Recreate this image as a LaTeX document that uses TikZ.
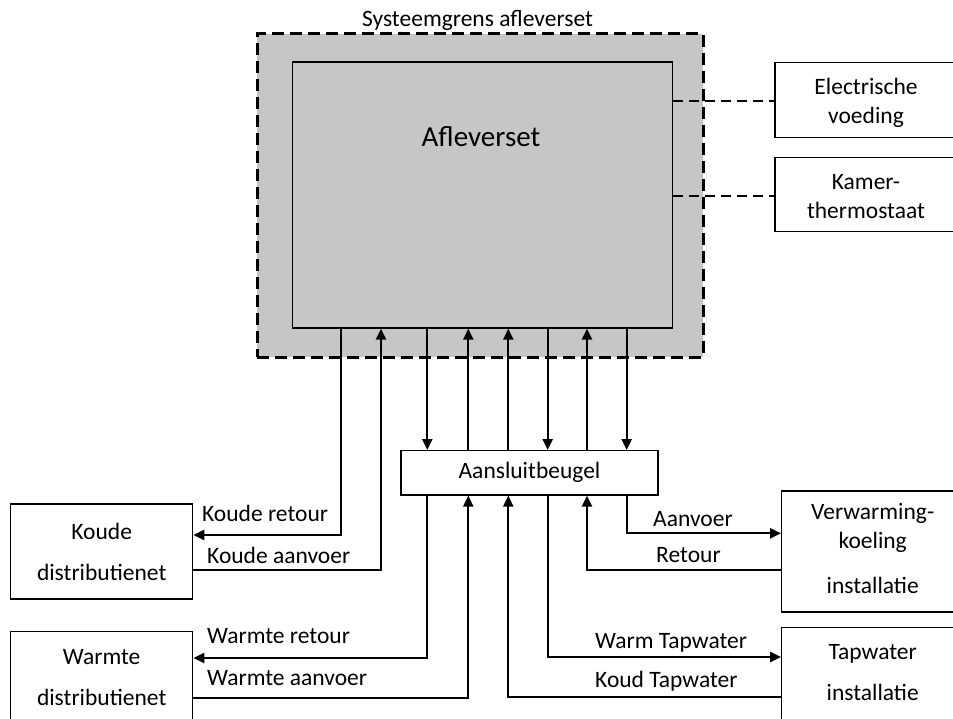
\documentclass[tikz,border=0pt]{standalone}
\usepackage{fontspec}
\setmainfont{Carlito}
\usetikzlibrary{arrows.meta}
\definecolor{setgrijs}{RGB}{198,198,198}

\begin{document}
\begin{tikzpicture}[x=1pt, y=-1pt,
    every node/.style={font=\fontsize{23.5}{29}\selectfont},
    blok/.style={draw, line width=1.3pt, inner sep=0pt, minimum width=182pt, align=center},
    tekst/.style={inner sep=0pt, anchor=base west},
    pijl/.style={line width=2.3pt, -{Triangle[length=11pt, width=10pt]}},
    stippel/.style={line width=2.5pt, dash pattern=on 10pt off 6pt}]
    \useasboundingbox (0,0) rectangle (953,719);

    % systeemgrens en afleverset
    \node[draw, fill=setgrijs, line width=3pt, dash pattern=on 12pt off 6pt, inner sep=0pt,
          minimum width=446pt, minimum height=323pt] (grens) at (480,195.5) {};
    \node[anchor=base] (grenstekst) at (477.5,27) {Systeemgrens afleverset};
    \node[draw, line width=1.3pt, inner sep=0pt, minimum width=380pt, minimum height=266pt] (afl) at (482.7,195) {};
    \node[anchor=base, font=\fontsize{29}{35}\selectfont] (afltekst) at (481,147) {Afleverset};

    % blokken
    \node[blok, minimum height=75pt] (elek) at (866,99.8) {};
    \node[align=center, inner sep=0pt] (elektekst) at (866,102.5) {Electrische\\voeding};
    \node[blok, minimum height=74.5pt] (kamer) at (866,194.5) {};
    \node[align=center, inner sep=0pt] (kamertekst) at (866,196.5) {Kamer-\\thermostaat};
    \node[blok, minimum width=257pt, minimum height=44.3pt] (beugel) at (529.5,472.8) {Aansluitbeugel};
    \node[blok, minimum height=95pt] (koude) at (101.7,551.5) {Koude\\[12pt]distributienet};
    \node[blok, minimum height=91pt] (warmte) at (101.7,677.2) {Warmte\\[12pt]distributienet};
    \node[blok, minimum height=121pt] (verw) at (872.7,551.5) {};
    \node[align=center, inner sep=0pt] (verwtekst) at (872.7,548.5) {Verwarming-\\koeling\\[16pt]installatie};
    \node[blok, minimum height=100pt] (tap) at (872.7,677.7) {};
    \node[align=center, inner sep=0pt] (taptekst) at (872.7,672.3) {Tapwater\\[12pt]installatie};

    % stuurlijnen
    \draw[stippel] (afl.east |- 0,101) -- (elek.west |- 0,101);
    \draw[stippel] (afl.east |- 0,196) -- (kamer.west |- 0,196);

    % afleverset <-> aansluitbeugel
    \draw[pijl] (afl.south -| 427.3,0) -- (beugel.north -| 427.3,0);
    \draw[pijl] (beugel.north -| 468.3,0) -- (afl.south -| 468.3,0);
    \draw[pijl] (beugel.north -| 508.3,0) -- (afl.south -| 508.3,0);
    \draw[pijl] (afl.south -| 547.7,0) -- (beugel.north -| 547.7,0);
    \draw[pijl] (beugel.north -| 587,0) -- (afl.south -| 587,0);
    \draw[pijl] (afl.south -| 626.7,0) -- (beugel.north -| 626.7,0);

    % koude distributienet
    \draw[pijl] (afl.south -| 341,0) |- (koude.east |- 0,535);
    \draw[pijl] (koude.east |- 0,570) -| (afl.south -| 381,0);
    \node[tekst] (kr) at (202,521) {Koude retour};
    \node[tekst] (ka) at (207,563) {Koude aanvoer};

    % warmte distributienet
    \draw[pijl] (beugel.south -| 427.3,0) |- (warmte.east |- 0,658);
    \draw[pijl] (warmte.east |- 0,698) -| (beugel.south -| 468.3,0);
    \node[tekst] (wr) at (207,643) {Warmte retour};
    \node[tekst] (wa) at (207,685) {Warmte aanvoer};

    % verwarming-koeling
    \draw[pijl] (beugel.south -| 626.7,0) |- (verw.west |- 0,533.3);
    \draw[pijl] (verw.west |- 0,570) -| (beugel.south -| 587,0);
    \node[tekst] (va) at (653,526) {Aanvoer};
    \node[tekst] (vr) at (656,562) {Retour};

    % tapwater
    \draw[pijl] (beugel.south -| 547.7,0) |- (tap.west |- 0,657);
    \draw[pijl] (tap.west |- 0,697) -| (beugel.south -| 508.3,0);
    \node[tekst] (tw) at (595,648) {Warm Tapwater};
    \node[tekst] (tk) at (595,687) {Koud Tapwater};
\end{tikzpicture}
\end{document}
